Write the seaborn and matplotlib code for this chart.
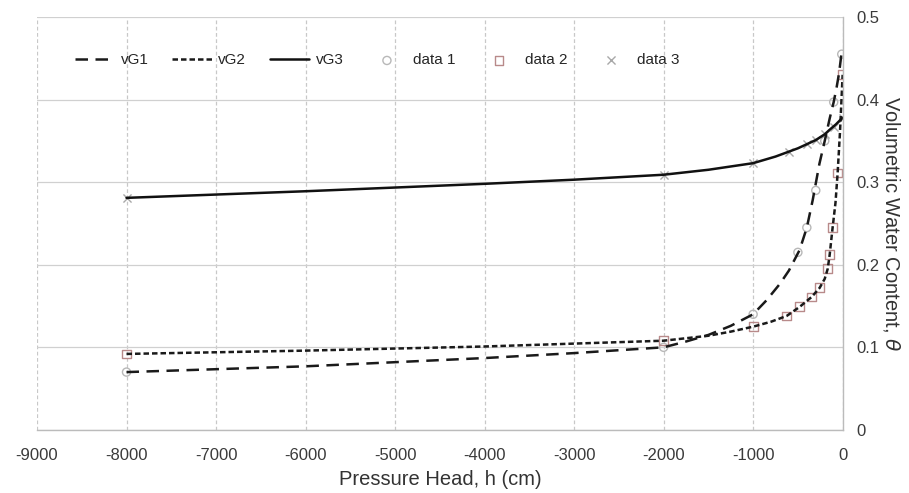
import pandas as pd
import numpy as np
import seaborn as sns
import matplotlib.pyplot as plt

# fitted curves
h_vg1 = [-8000, -6000, -4000, -3000, -2000, -1750, -1500, -1250, -1000, -850, -700, -600,
         -480, -400, -335, -260, -200, -145, -100, -67, -40, -10]
th_vg1 = [0.070, 0.077, 0.087, 0.093, 0.100, 0.107, 0.115, 0.126, 0.140, 0.157, 0.177, 0.193,
          0.218, 0.245, 0.278, 0.322, 0.350, 0.377, 0.397, 0.415, 0.432, 0.458]

h_vg2 = [-8000, -6000, -4000, -2000, -1500, -1250, -1000, -800, -625, -480, -346, -257,
         -200, -167, -145, -112, -80, -56, -30, 0]
th_vg2 = [0.092, 0.096, 0.101, 0.108, 0.114, 0.119, 0.125, 0.131, 0.138, 0.149, 0.161, 0.172,
          0.183, 0.195, 0.212, 0.245, 0.275, 0.311, 0.360, 0.430]

h_vg3 = [-8000, -6000, -4000, -3000, -2000, -1500, -1000, -750, -500, -400, -300, -200,
         -150, -75, -20, 0]
th_vg3 = [0.281, 0.289, 0.298, 0.303, 0.309, 0.315, 0.323, 0.331, 0.341, 0.346, 0.351, 0.358,
          0.363, 0.370, 0.376, 0.378]

# measured points
h_d1 = [-8000, -2000, -1000, -500, -400, -300, -200, -100, -10]
th_d1 = [0.070, 0.100, 0.140, 0.215, 0.245, 0.290, 0.350, 0.397, 0.455]

h_d2 = [-8000, -2000, -1000, -625, -480, -346, -257, -167, -145, -112, -56, 0]
th_d2 = [0.092, 0.108, 0.125, 0.138, 0.149, 0.161, 0.172, 0.195, 0.212, 0.245, 0.311, 0.430]

h_d3 = [-8000, -2000, -1000, -600, -400, -300, -200, -100, 0]
th_d3 = [0.281, 0.309, 0.323, 0.337, 0.346, 0.351, 0.358, 0.367, 0.378]

xticks = list(range(-9000, 1, 1000))
xtick_labels = [str(t) for t in xticks]
yticks = [0, 0.1, 0.2, 0.3, 0.4, 0.5]
ytick_labels = ['0', '0.1', '0.2', '0.3', '0.4', '0.5']

sns.set_style("white")
plt.rcParams['font.family'] = ['Liberation Sans', 'DejaVu Sans']

fig = plt.figure(figsize=(9.09, 4.93), dpi=100)
ax = fig.add_axes([0.0407, 0.128, 0.8863, 0.8375])

ax.grid(axis='x', color='#c8c8c8', linestyle=(0, (3, 2)), linewidth=0.9)
ax.grid(axis='y', color='#d0d0d0', linestyle='-', linewidth=0.9)
ax.set_axisbelow(True)

sns.lineplot(x=h_vg1, y=th_vg1, ax=ax, color='#1a1a1a', lw=1.8,
             label='vG1', sort=False)
ax.lines[-1].set_dashes((5, 3))
sns.lineplot(x=h_vg2, y=th_vg2, ax=ax, color='#1a1a1a', lw=1.8,
             label='vG2', sort=False)
ax.lines[-1].set_dashes((2.2, 1.2))
sns.lineplot(x=h_vg3, y=th_vg3, ax=ax, color='#111111', lw=1.8,
             label='vG3', sort=False)

sns.scatterplot(x=h_d1, y=th_d1, ax=ax, marker='o', s=34, facecolor='none',
                edgecolor='#b8b8b8', linewidth=1.0, label='data 1')
sns.scatterplot(x=h_d2, y=th_d2, ax=ax, marker='s', s=40, facecolor='none',
                edgecolor='#b88a8a', linewidth=1.0, label='data 2')
sns.scatterplot(x=h_d3, y=th_d3, ax=ax, marker='x', s=34, color='#a8a8a8',
                linewidth=1.0, label='data 3')

ax.set_xlim(-9000, 0)
ax.set_ylim(0, 0.5)
ax.set_xticks(xticks)
ax.set_xticklabels(xtick_labels)
ax.set_yticks(yticks)
ax.set_yticklabels(ytick_labels)
ax.yaxis.tick_right()
ax.yaxis.set_label_position('right')
ax.tick_params(axis='both', length=0, labelsize=12, colors='#3a3a3a')
ax.tick_params(axis='x', pad=13)
ax.tick_params(axis='y', pad=10)

ax.set_xlabel('Pressure Head, h (cm)', fontsize=14.5, color='#333333', labelpad=5)
ax.set_ylabel('Volumetric Water Content, $\\theta$', fontsize=14.5, color='#333333',
              rotation=-90, labelpad=16)

for s in ['left', 'top']:
    ax.spines[s].set_visible(False)
for s in ['right', 'bottom']:
    ax.spines[s].set_color('#bbbbbb')
    ax.spines[s].set_linewidth(1.0)

h, l = ax.get_legend_handles_labels()
ax.legend(h, l, ncol=6, frameon=False, loc='upper left', bbox_to_anchor=(0.03, 0.945),
          fontsize=11, handlelength=2.6, handletextpad=0.4, columnspacing=1.55)

fig.savefig('out.png', dpi=100)
